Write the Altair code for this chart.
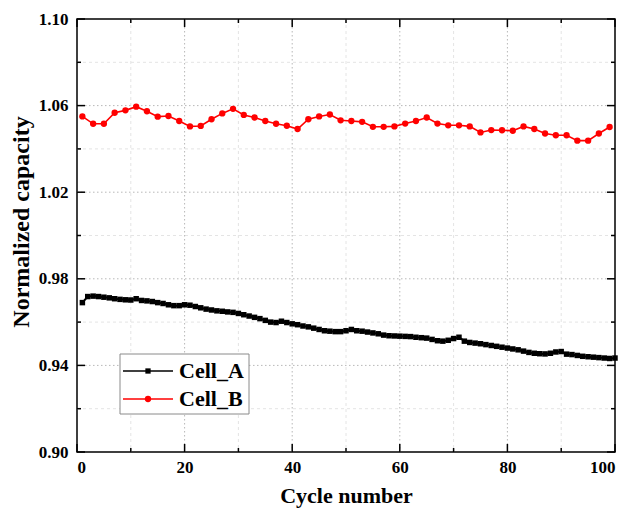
import altair as alt
import pandas as pd

# ---- data -------------------------------------------------------------
series_names = ["Cell_A", "Cell_B"]

cycles_a = list(range(1, 101))
capacity_a = [
    0.9690, 0.9718, 0.9720, 0.9718, 0.9715, 0.9712, 0.9708, 0.9705, 0.9703, 0.9702,
    0.9708, 0.9700, 0.9698, 0.9695, 0.9690, 0.9686, 0.9680, 0.9676, 0.9676, 0.9680,
    0.9678, 0.9672, 0.9666, 0.9660, 0.9656, 0.9652, 0.9650, 0.9647, 0.9645, 0.9640,
    0.9634, 0.9628, 0.9622, 0.9616, 0.9608, 0.9600, 0.9598, 0.9604, 0.9598, 0.9592,
    0.9588, 0.9582, 0.9578, 0.9572, 0.9566, 0.9560, 0.9558, 0.9556, 0.9556, 0.9560,
    0.9566, 0.9560, 0.9558, 0.9554, 0.9550, 0.9546, 0.9540, 0.9537, 0.9536, 0.9535,
    0.9534, 0.9533, 0.9530, 0.9528, 0.9526, 0.9520, 0.9514, 0.9512, 0.9516, 0.9524,
    0.9530, 0.9512, 0.9506, 0.9503, 0.9500, 0.9496, 0.9492, 0.9488, 0.9484, 0.9480,
    0.9476, 0.9472, 0.9466, 0.9460, 0.9456, 0.9454, 0.9453, 0.9456, 0.9462, 0.9464,
    0.9452, 0.9450, 0.9446, 0.9442, 0.9440, 0.9438, 0.9436, 0.9434, 0.9432, 0.9434,
]

cycles_b = list(range(1, 100, 2))
capacity_b = [
    1.0550, 1.0516, 1.0516, 1.0567, 1.0578, 1.0595, 1.0574, 1.0549, 1.0552, 1.0529,
    1.0504, 1.0506, 1.0537, 1.0564, 1.0585, 1.0557, 1.0545, 1.0529, 1.0516, 1.0507,
    1.0492, 1.0537, 1.0550, 1.0559, 1.0532, 1.0529, 1.0525, 1.0502, 1.0502, 1.0504,
    1.0517, 1.0529, 1.0545, 1.0517, 1.0509, 1.0509, 1.0504, 1.0476, 1.0487, 1.0486,
    1.0484, 1.0504, 1.0492, 1.0471, 1.0463, 1.0463, 1.0438, 1.0438, 1.0471, 1.0501,
]

# axis ticks (major ones carry labels, minor ones are bare marks)
x_major = [0, 20, 40, 60, 80, 100]
x_minor = [10, 30, 50, 70, 90]
y_major = [0.90, 0.94, 0.98, 1.02, 1.06, 1.10]
y_minor = [0.92, 0.96, 1.00, 1.04, 1.08]

x_title = "Cycle number"
y_title = "Normalized capacity"

df_a = pd.DataFrame({"cycle": cycles_a, "capacity": capacity_a})
df_b = pd.DataFrame({"cycle": cycles_b, "capacity": capacity_b})

W, H = 538, 433
SERIF = "Liberation Serif"

xs = alt.Scale(domain=[0, 100], nice=False, zero=False)
ys = alt.Scale(domain=[0.90, 1.10], nice=False, zero=False)

x_axis = alt.Axis(values=x_major, format="d", title=x_title,
                  labelPadding=7, titlePadding=10)
y_axis = alt.Axis(values=y_major, format=".2f", title=None, labelPadding=9)

X = alt.X("cycle:Q", scale=xs, axis=x_axis)
Y = alt.Y("capacity:Q", scale=ys, axis=y_axis)

one = pd.DataFrame({"k": [0]})

# ---- grid ---------------------------------------------------------------
def vgrid(vals, color, dash):
    return alt.Chart(pd.DataFrame({"cycle": vals})).mark_rule(
        color=color, strokeWidth=1, strokeDash=dash
    ).encode(x=X, y=alt.value(0), y2=alt.value(H))


def hgrid(vals, color, dash):
    return alt.Chart(pd.DataFrame({"capacity": vals})).mark_rule(
        color=color, strokeWidth=1, strokeDash=dash
    ).encode(y=Y, x=alt.value(0), x2=alt.value(W))


grid = [
    vgrid(x_minor, "#e4e4e4", [3, 3]),
    hgrid(y_minor, "#e4e4e4", [3, 3]),
    vgrid(x_major[1:-1], "#b8b8b8", [1.5, 2.5]),
    hgrid(y_major[1:-1], "#b8b8b8", [1.5, 2.5]),
]

# ---- inward ticks on all four sides ------------------------------------
def xticks(vals, length):
    d = alt.Chart(pd.DataFrame({"cycle": vals})).mark_rule(color="black", strokeWidth=1.5)
    return [
        d.encode(x=X, y=alt.value(H), y2=alt.value(H - length)),
        d.encode(x=X, y=alt.value(0), y2=alt.value(length)),
    ]


def yticks(vals, length):
    d = alt.Chart(pd.DataFrame({"capacity": vals})).mark_rule(color="black", strokeWidth=1.5)
    return [
        d.encode(y=Y, x=alt.value(0), x2=alt.value(length)),
        d.encode(y=Y, x=alt.value(W), x2=alt.value(W - length)),
    ]


ticks = xticks(x_major, 8) + xticks(x_minor, 4) + yticks(y_major, 8) + yticks(y_minor, 4)

# ---- data series --------------------------------------------------------
line_a = alt.Chart(df_a).mark_line(color="black", strokeWidth=2).encode(x=X, y=Y)
pts_a = alt.Chart(df_a).mark_point(
    shape="square", filled=True, size=30, color="black", opacity=1
).encode(x=X, y=Y)

line_b = alt.Chart(df_b).mark_line(color="#ff0000", strokeWidth=1.6).encode(x=X, y=Y)
pts_b = alt.Chart(df_b).mark_point(
    shape="circle", filled=True, size=40, color="#ff0000", opacity=1
).encode(x=X, y=Y)

# rotated y-axis title, sitting a little above the plot's middle
y_label = alt.Chart(one).mark_text(
    angle=270, align="center", baseline="middle", font=SERIF,
    fontWeight="bold", fontSize=24, color="black"
).encode(x=alt.value(-55), y=alt.value(203), text=alt.value(y_title))

# ---- legend -------------------------------------------------------------
box = alt.Chart(one).mark_rect(fill="white", stroke="#8a8a8a", strokeWidth=1).encode(
    x=alt.value(43), x2=alt.value(172), y=alt.value(335), y2=alt.value(395)
)


def legend_row(name, color, shape, size, ypos):
    sample = alt.Chart(one).mark_rule(color=color, strokeWidth=1.6).encode(
        x=alt.value(46), x2=alt.value(96), y=alt.value(ypos)
    )
    marker = alt.Chart(one).mark_point(
        shape=shape, filled=True, size=size, color=color, opacity=1
    ).encode(x=alt.value(71), y=alt.value(ypos))
    label = alt.Chart(one).mark_text(
        align="left", baseline="middle", font=SERIF, fontWeight="bold",
        fontSize=22, color="black"
    ).encode(x=alt.value(102), y=alt.value(ypos), text=alt.value(name))
    return [sample, marker, label]


legend = (legend_row(series_names[0], "black", "square", 28, 352)
          + legend_row(series_names[1], "#ff0000", "circle", 40, 380))

chart = alt.layer(
    *grid, line_a, pts_a, line_b, pts_b, *ticks, box, *legend, y_label
).properties(
    width=W, height=H,
    autosize=alt.AutoSizeParams(type="none"),
    padding={"left": 77, "top": 19, "right": 15, "bottom": 64},
).configure_view(
    stroke="black", strokeWidth=1.5
).configure_axis(
    domain=False, ticks=False, grid=False,
    labelFont=SERIF, labelFontWeight="bold", labelFontSize=17, labelColor="black",
    titleFont=SERIF, titleFontWeight="bold", titleFontSize=22, titleColor="black",
)

chart.save("out.html", embed_options={"renderer": "svg", "actions": False})
